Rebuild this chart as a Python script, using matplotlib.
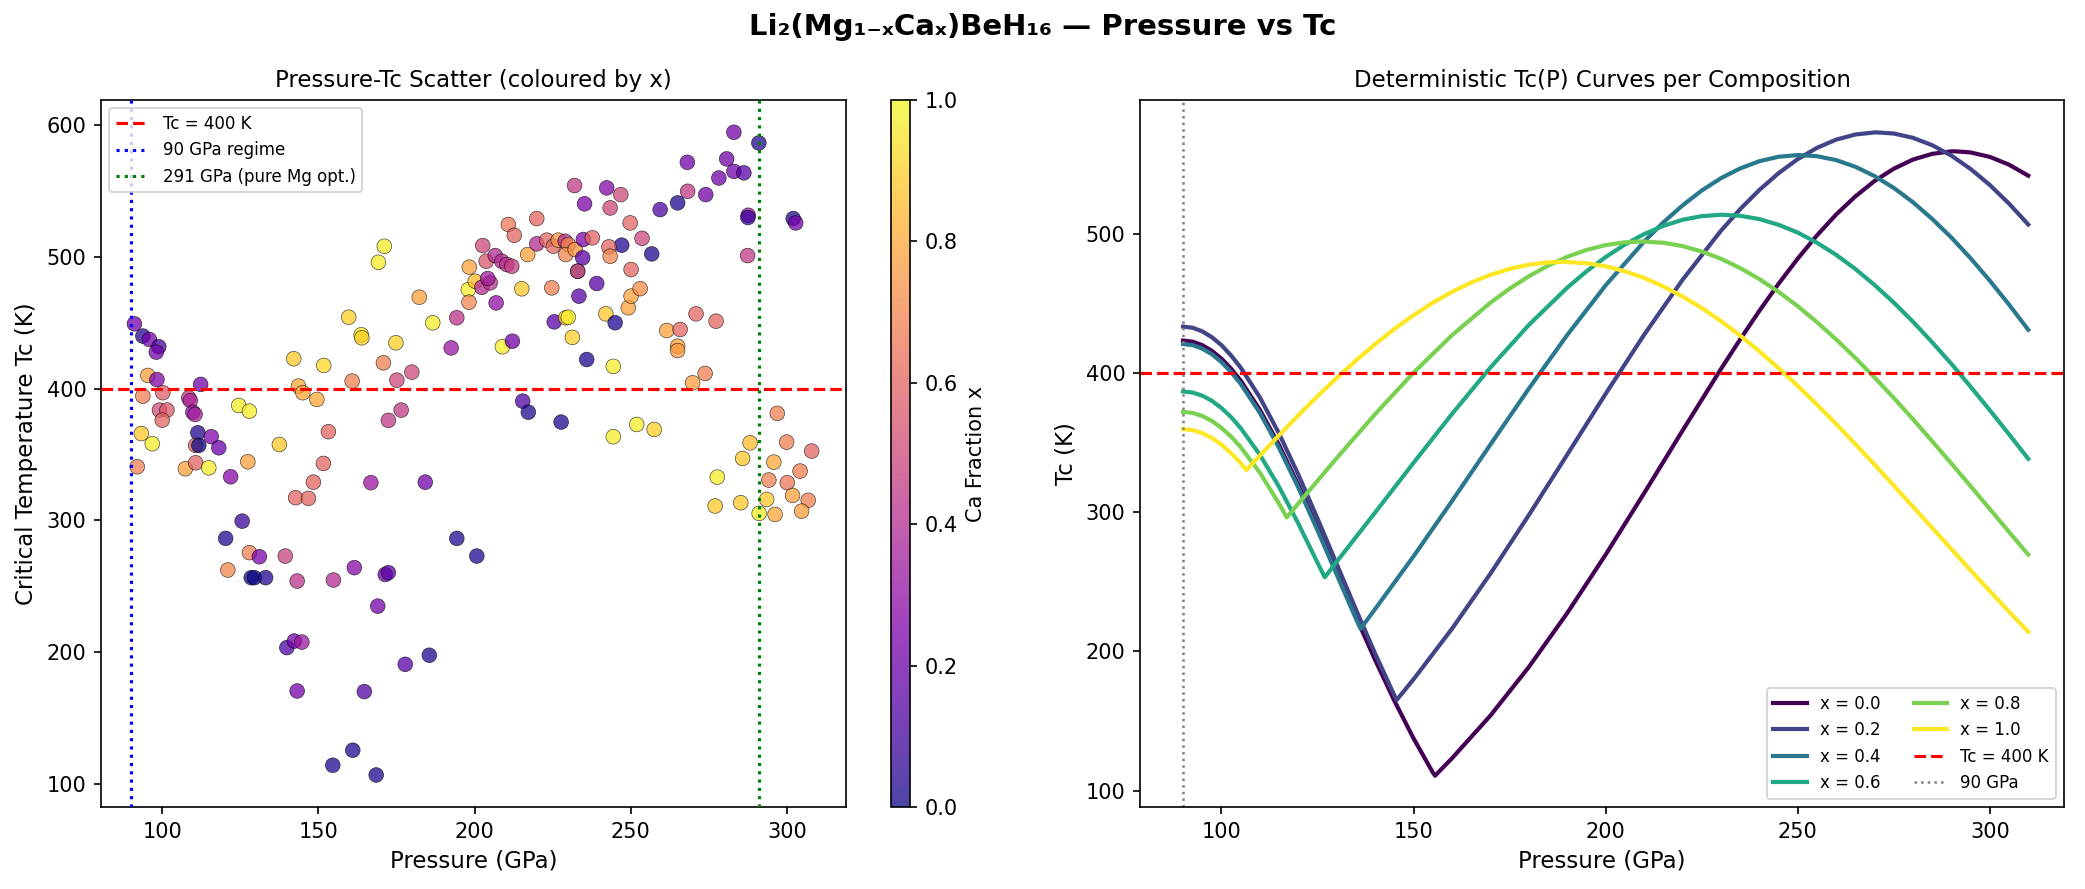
import matplotlib
matplotlib.use("Agg")
import matplotlib.pyplot as plt
import numpy as np

# ---------------- scatter data ----------------
pressure = [91.1, 93.8, 95.9, 98.9, 98.1, 95.4, 98.3, 112.3, 93.8, 100.2,
            108.5, 109.0, 99.1, 101.5, 100.0, 109.8, 110.5, 124.5, 127.9, 93.3,
            96.8, 111.4, 110.7, 111.7, 115.7, 118.1, 92.0, 107.4, 110.7, 114.9,
            121.9, 127.4, 137.5, 142.1, 151.7, 143.6, 145.0, 149.5, 160.8, 153.2,
            151.6, 148.4, 142.7, 146.8, 125.6, 120.3, 127.9, 131.1, 139.4, 121.0,
            128.5, 129.5, 133.1, 143.2, 154.8, 161.5, 159.7, 163.7, 163.9, 174.8,
            192.5, 208.9, 212.1, 231.3, 235.9, 244.4, 170.8, 179.9, 175.1, 215.4,
            217.2, 227.7, 251.9, 244.4, 176.5, 172.4, 166.8, 184.2, 194.3, 200.7,
            171.4, 172.4, 169.0, 171.1, 169.2, 182.3, 186.6, 194.3, 198.3, 198.0,
            200.2, 198.2, 202.3, 205.0, 204.2, 206.9, 202.6, 203.7, 206.6, 208.7,
            210.3, 211.9, 210.8, 212.7, 215.1, 217.0, 219.9, 219.9, 223.1, 224.7,
            225.2, 226.8, 229.0, 230.0, 229.2, 232.2, 234.8, 237.7, 234.6, 233.0,
            233.0, 232.0, 235.2, 242.3, 246.8, 243.4, 249.8, 253.6, 247.1, 243.0,
            243.4, 250.1, 239.1, 233.4, 225.5, 229.2, 230.0, 242.0, 245.0, 249.2,
            250.1, 253.0, 283.0, 291.0, 268.1, 280.7, 283.0, 286.2, 278.2, 274.0,
            268.2, 265.0, 259.4, 256.7, 287.6, 287.5, 302.0, 302.8, 287.4, 270.9,
            277.3, 261.5, 265.8, 265.0, 265.0, 273.8, 269.8, 257.5, 296.9, 288.2,
            299.9, 307.9, 285.8, 295.8, 304.2, 277.7, 294.2, 300.1, 301.8, 306.8,
            293.5, 285.2, 277.0, 291.1, 296.2, 304.7, 139.9, 142.3, 144.7, 143.2,
            164.7, 177.8, 185.5, 154.6, 161.0, 168.5]
tc_scatter = [449.3, 440.0, 437.4, 431.9, 427.8, 410.1, 407.0, 403.3, 394.4, 397.0,
              393.0, 391.0, 383.8, 383.8, 376.2, 382.2, 380.5, 387.3, 383.0, 366.0,
              358.3, 366.6, 357.0, 357.0, 363.6, 355.2, 340.8, 339.3, 343.8, 340.0,
              333.2, 344.6, 357.7, 422.8, 417.7, 402.0, 397.0, 391.9, 405.8, 367.4,
              343.3, 329.1, 317.3, 316.8, 299.5, 286.4, 275.6, 272.5, 273.0, 262.4,
              256.6, 256.6, 256.6, 254.0, 254.8, 264.2, 454.3, 441.0, 438.7, 434.9,
              431.0, 431.9, 436.1, 439.0, 422.2, 417.0, 419.7, 412.6, 406.5, 390.6,
              382.2, 374.7, 372.9, 363.6, 383.8, 376.0, 328.7, 329.1, 286.4, 273.0,
              259.0, 260.4, 235.0, 508.2, 496.0, 469.5, 450.1, 453.9, 492.3, 475.3,
              481.6, 465.7, 477.0, 480.4, 483.7, 465.2, 508.7, 496.8, 501.1, 496.8,
              494.3, 493.0, 524.7, 516.5, 475.9, 501.9, 529.2, 510.0, 512.8, 476.6,
              508.2, 512.8, 512.0, 509.5, 501.9, 505.7, 513.3, 514.6, 499.4, 489.2,
              489.2, 554.3, 540.4, 552.5, 547.4, 537.3, 525.9, 514.2, 509.0, 507.7,
              500.6, 490.5, 479.9, 470.3, 450.8, 453.9, 454.3, 456.9, 450.1, 461.5,
              470.3, 476.0, 594.7, 586.6, 571.9, 574.5, 565.0, 563.9, 560.0, 547.4,
              549.9, 541.1, 536.0, 502.4, 531.7, 530.0, 529.2, 525.9, 501.1, 456.9,
              451.3, 444.2, 445.0, 432.3, 429.0, 411.6, 404.5, 369.1, 381.3, 359.0,
              359.5, 352.7, 347.1, 344.3, 337.5, 332.9, 330.7, 328.7, 319.0, 315.3,
              316.0, 313.5, 311.0, 305.4, 304.6, 307.1, 203.5, 208.5, 207.7, 170.6,
              170.1, 190.8, 197.7, 114.2, 125.6, 106.8]
ca_fraction = [0.22, 0.04, 0.22, 0.10, 0.22, 0.78, 0.25, 0.22, 0.68, 0.57,
               0.45, 0.38, 0.52, 0.56, 0.60, 0.30, 0.36, 0.97, 0.97, 0.88,
               0.97, 0.03, 0.60, 0.00, 0.25, 0.20, 0.68, 0.78, 0.60, 0.97,
               0.27, 0.78, 0.88, 0.88, 0.92, 0.80, 0.80, 0.80, 0.68, 0.60,
               0.60, 0.60, 0.60, 0.60, 0.08, 0.03, 0.68, 0.24, 0.48, 0.70,
               0.00, 0.00, 0.03, 0.43, 0.40, 0.28, 0.90, 0.96, 0.90, 0.90,
               0.33, 0.97, 0.22, 0.90, 0.03, 0.97, 0.68, 0.50, 0.50, 0.13,
               0.03, 0.03, 0.97, 0.97, 0.45, 0.45, 0.33, 0.22, 0.03, 0.03,
               0.22, 0.15, 0.22, 0.97, 0.97, 0.78, 0.97, 0.43, 0.78, 0.97,
               0.85, 0.70, 0.40, 0.42, 0.35, 0.30, 0.50, 0.55, 0.40, 0.40,
               0.42, 0.46, 0.66, 0.60, 0.88, 0.78, 0.60, 0.40, 0.60, 0.68,
               0.60, 0.75, 0.40, 0.70, 0.70, 0.75, 0.25, 0.60, 0.15, 0.03,
               0.55, 0.45, 0.24, 0.26, 0.50, 0.50, 0.60, 0.50, 0.03, 0.60,
               0.70, 0.60, 0.15, 0.15, 0.15, 0.90, 0.97, 0.88, 0.03, 0.78,
               0.78, 0.72, 0.22, 0.03, 0.22, 0.22, 0.22, 0.15, 0.22, 0.22,
               0.45, 0.03, 0.13, 0.03, 0.33, 0.08, 0.03, 0.22, 0.45, 0.60,
               0.60, 0.78, 0.60, 0.78, 0.76, 0.68, 0.78, 0.90, 0.68, 0.85,
               0.68, 0.60, 0.88, 0.80, 0.68, 0.97, 0.68, 0.65, 0.78, 0.68,
               0.88, 0.88, 0.88, 0.97, 0.80, 0.78, 0.13, 0.22, 0.33, 0.22,
               0.15, 0.15, 0.03, 0.03, 0.03, 0.03]

# ---------------- deterministic curves ----------------
compositions = [0.0, 0.2, 0.4, 0.6, 0.8, 1.0]

p_x00 = [90, 92.5, 95, 97.5, 100, 102.5, 105, 110, 115, 120, 125, 130, 135, 140, 145, 150,
         155, 155.6, 160, 170, 180, 190, 200, 210, 220, 230, 235, 240, 245, 250, 255, 260,
         265, 270, 275, 280, 285, 290, 291, 295, 300, 305, 310]
tc_x00 = [423.5, 422.7, 420.2, 416.1, 410.5, 403.3, 394.7, 373.7, 348.4, 319.7, 288.8, 256.9,
          224.9, 193.9, 164.6, 137.5, 113.1, 110.7, 123.2, 153.9, 188.8, 227.6, 269.6, 313.7,
          358.7, 403.0, 424.3, 444.8, 464.3, 482.4, 499.1, 514.1, 527.1, 538.2, 547.0, 553.6,
          557.7, 559.5, 559.5, 558.7, 555.5, 549.9, 542.0]

p_x02 = [90, 92.5, 95, 97.5, 100, 102.5, 105, 110, 115, 120, 125, 130, 135, 140, 145, 145.6,
         150, 160, 170, 180, 190, 200, 210, 220, 230, 235, 240, 245, 250, 255, 260, 265, 270,
         270.7, 275, 280, 285, 290, 295, 300, 305, 310]
tc_x02 = [433.5, 432.7, 430.1, 425.9, 420.2, 412.8, 404.1, 382.6, 356.6, 327.2, 295.6, 262.9,
          230.2, 198.5, 168.4, 165.1, 180.0, 216.3, 255.9, 298.0, 341.5, 385.2, 427.6, 467.1,
          502.4, 517.9, 531.7, 543.8, 553.9, 562.0, 567.9, 571.6, 573.1, 573.1, 572.3, 569.2,
          563.9, 556.4, 546.8, 535.3, 521.9, 506.9]

p_x04 = [90, 92.5, 95, 97.5, 100, 102.5, 105, 110, 115, 120, 125, 130, 135, 136.2, 140, 150,
         160, 170, 180, 190, 200, 210, 215, 220, 225, 230, 235, 240, 245, 250, 250.5, 255, 260,
         265, 270, 275, 280, 285, 290, 295, 300, 305, 310]
tc_x04 = [421.0, 420.2, 417.7, 413.7, 408.0, 400.9, 392.4, 371.5, 346.3, 317.8, 287.1, 255.3,
          223.6, 216.3, 230.5, 268.4, 308.1, 348.7, 388.9, 427.5, 463.2, 494.6, 508.4, 520.6,
          531.3, 540.2, 547.2, 552.4, 555.6, 556.8, 556.8, 556.0, 553.2, 548.4, 541.7, 533.2,
          522.9, 510.9, 497.5, 482.6, 466.5, 449.3, 431.2]

p_x06 = [90, 92.5, 95, 97.5, 100, 102.5, 105, 110, 115, 120, 125, 126.9, 130, 140, 150, 160,
         170, 180, 190, 195, 200, 205, 210, 215, 220, 225, 230, 230.4, 235, 240, 245, 250, 255,
         260, 265, 270, 275, 280, 285, 290, 295, 300, 305, 310]
tc_x06 = [386.9, 386.1, 383.9, 380.2, 375.0, 368.5, 360.6, 341.4, 318.3, 292.0, 263.8, 253.3,
          264.5, 299.9, 335.6, 370.7, 404.1, 434.7, 461.5, 473.2, 483.5, 492.5, 500.0, 505.9,
          510.3, 512.9, 513.9, 513.9, 513.2, 510.8, 506.7, 501.1, 493.8, 485.1, 474.9, 463.4,
          450.8, 437.0, 422.2, 406.7, 390.3, 373.4, 356.1, 338.5]

p_x08 = [90, 92.5, 95, 97.5, 100, 102.5, 105, 110, 115, 117.0, 120, 130, 140, 150, 160, 170,
         175, 180, 185, 190, 195, 200, 205, 209.4, 215, 220, 225, 230, 235, 240, 245, 250, 255,
         260, 265, 270, 275, 280, 285, 290, 295, 300, 305, 310]
tc_x08 = [372.2, 371.5, 369.3, 365.7, 360.7, 354.5, 346.9, 328.5, 306.2, 296.4, 306.3, 339.0,
          370.6, 400.4, 427.3, 450.7, 460.8, 469.7, 477.3, 483.7, 488.6, 492.1, 494.1, 494.7,
          493.8, 491.4, 487.5, 482.3, 475.6, 467.7, 458.5, 448.2, 436.7, 424.3, 411.0, 396.9,
          382.2, 366.9, 351.1, 335.1, 318.8, 302.4, 285.9, 269.6]

p_x10 = [90, 92.5, 95, 97.5, 100, 102.5, 105, 106.5, 110, 115, 120, 125, 130, 135, 140, 145,
         150, 155, 160, 165, 170, 175, 180, 185, 188.9, 195, 200, 205, 210, 215, 220, 225, 230,
         235, 240, 245, 250, 255, 260, 265, 270, 275, 280, 285, 290, 295, 300, 305, 310]
tc_x10 = [359.8, 359.1, 357.0, 353.5, 348.7, 342.6, 335.4, 330.4, 340.8, 355.4, 369.7, 383.5,
          396.6, 409.1, 420.9, 431.8, 441.7, 450.7, 458.5, 465.2, 470.7, 475.0, 478.0, 479.7,
          480.1, 479.1, 476.9, 473.3, 468.5, 462.4, 455.2, 446.9, 437.5, 427.1, 415.8, 403.7,
          390.9, 377.5, 363.5, 349.0, 334.3, 319.2, 304.0, 288.8, 273.5, 258.3, 243.4, 228.6,
          214.1]

curve_p = [p_x00, p_x02, p_x04, p_x06, p_x08, p_x10]
curve_tc = [tc_x00, tc_x02, tc_x04, tc_x06, tc_x08, tc_x10]

TC_THRESHOLD = 400
P_REGIME = 90
P_MG_OPT = 291

# ---------------- figure ----------------
W, H = 2085, 889
fig = plt.figure(figsize=(W / 150, H / 150), dpi=150)

ax1 = fig.add_axes([101 / W, 1 - 807 / H, 745 / W, 707 / H])
cax = fig.add_axes([891 / W, 1 - 807 / H, 19 / W, 707 / H])
ax2 = fig.add_axes([1140 / W, 1 - 807 / H, 924 / W, 707 / H])

sc = ax1.scatter(pressure, tc_scatter, c=ca_fraction, cmap="plasma", vmin=0, vmax=1,
                 s=50, alpha=0.75, edgecolors="k", linewidths=0.3, zorder=2)
ax1.axhline(TC_THRESHOLD, color="red", ls="--", lw=1.5, label="Tc = 400 K", zorder=3)
ax1.axvline(P_REGIME, color="blue", ls=":", lw=1.5, label="90 GPa regime", zorder=3)
ax1.axvline(P_MG_OPT, color="green", ls=":", lw=1.5, label="291 GPa (pure Mg opt.)", zorder=3)
ax1.set_xlim(80.4, 318.9)
ax1.set_ylim(82.5, 619.2)
ax1.set_xticks([100, 150, 200, 250, 300])
ax1.set_yticks([100, 200, 300, 400, 500, 600])
ax1.set_xlabel("Pressure (GPa)", fontsize=11)
ax1.set_ylabel("Critical Temperature Tc (K)", fontsize=11)
ax1.set_title("Pressure-Tc Scatter (coloured by x)", fontsize=11)
ax1.legend(loc="upper left", fontsize=8)

cb = fig.colorbar(sc, cax=cax)
cb.set_label("Ca Fraction x", fontsize=10)
cb.set_ticks([0.0, 0.2, 0.4, 0.6, 0.8, 1.0])

colors = plt.cm.viridis(np.linspace(0, 1, len(compositions)))
for comp, pp, tt, col in zip(compositions, curve_p, curve_tc, colors):
    ax2.plot(pp, tt, color=col, lw=2, label=f"x = {comp:.1f}")
ax2.axhline(TC_THRESHOLD, color="red", ls="--", lw=1.5, label="Tc = 400 K")
ax2.axvline(P_REGIME, color="gray", ls=":", lw=1.2, label="90 GPa")
ax2.set_xlim(78.8, 319.3)
ax2.set_ylim(88.2, 596.4)
ax2.set_xticks([100, 150, 200, 250, 300])
ax2.set_yticks([100, 200, 300, 400, 500])
ax2.set_xlabel("Pressure (GPa)", fontsize=11)
ax2.set_ylabel("Tc (K)", fontsize=11)
ax2.set_title("Deterministic Tc(P) Curves per Composition", fontsize=11)
ax2.legend(loc="lower right", fontsize=8, ncol=2)

fig.suptitle("Li₂(Mg₁₋ₓCaₓ)BeH₁₆ — Pressure vs Tc", fontsize=14, fontweight="bold", y=0.985)

fig.savefig("out.png", dpi=150)
